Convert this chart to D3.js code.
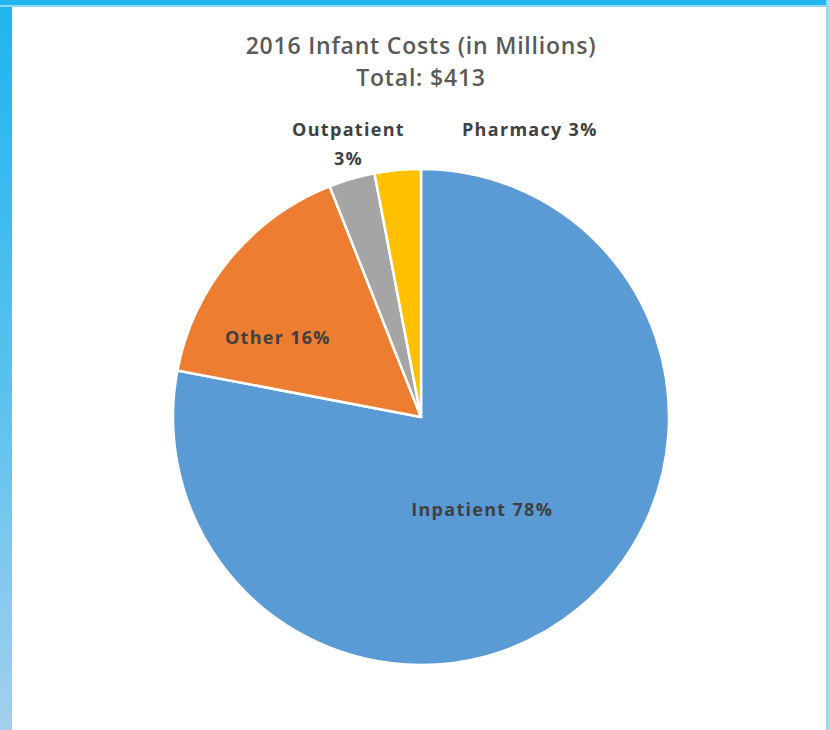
<!DOCTYPE html>
<html>
<head>
<meta charset="utf-8">
<script src="https://cdn.jsdelivr.net/npm/d3@7"></script>
<style>
  html, body { margin: 0; padding: 0; background: #ffffff; }
  svg { display: block; }
</style>
</head>
<body>
<svg id="chart" width="829" height="730"></svg>
<script>
// Cost categories, shares of the 2016 total (percent)
const categories = ["Inpatient", "Other", "Outpatient", "Pharmacy"];
const shares = [78, 16, 3, 3];
const sliceColors = ["#5B9BD5", "#ED7D31", "#A5A5A5", "#FFC000"];
const titleLines = ["2016 Infant Costs (in Millions)", "Total: $413"];

const W = 829, H = 730;
const svg = d3.select("#chart");

// frame: gradient band on the left, solid band on top, thin line on the right
const defs = svg.append("defs");
const grad = defs.append("linearGradient")
  .attr("id", "frameGrad").attr("x1", 0).attr("y1", 0).attr("x2", 0).attr("y2", 1);
grad.append("stop").attr("offset", "0%").attr("stop-color", "#1fb4ef");
grad.append("stop").attr("offset", "55%").attr("stop-color", "#5cc2ee");
grad.append("stop").attr("offset", "100%").attr("stop-color", "#a4cfed");

svg.append("rect").attr("x", 0).attr("y", 0).attr("width", W).attr("height", H).attr("fill", "#ffffff");
svg.append("rect").attr("x", 0).attr("y", 0).attr("width", 12).attr("height", H).attr("fill", "url(#frameGrad)");
svg.append("rect").attr("x", 0).attr("y", 0).attr("width", W).attr("height", 5).attr("fill", "#22b6f0");
svg.append("rect").attr("x", 0).attr("y", 5).attr("width", W).attr("height", 2).attr("fill", "#8fd7f5");
svg.append("rect").attr("x", W - 3).attr("y", 0).attr("width", 3).attr("height", H).attr("fill", "#9ad8f4");

// title
svg.append("g").selectAll("text").data(titleLines).join("text")
  .attr("x", 421)
  .attr("y", (d, i) => 54 + i * 32)
  .attr("text-anchor", "middle")
  .attr("font-family", "'Open Sans', Lato, sans-serif")
  .attr("font-size", 23)
  .attr("font-weight", 600)
  .attr("letter-spacing", 0.8)
  .attr("fill", "#595959")
  .text(d => d);

// pie
const cx = 421, cy = 417, R = 248;
const data = categories.map((c, i) => ({ name: c, value: shares[i], color: sliceColors[i] }));
const pie = d3.pie().sort(null).value(d => d.value);
const arcs = pie(data);
const arc = d3.arc().innerRadius(0).outerRadius(R);

const g = svg.append("g").attr("transform", `translate(${cx},${cy})`);
g.selectAll("path").data(arcs).join("path")
  .attr("d", arc)
  .attr("fill", d => d.data.color)
  .attr("stroke", "#ffffff")
  .attr("stroke-width", 2.5)
  .attr("stroke-linejoin", "round");

// data label placement: radius (fraction of R) along the slice middle, then a nudge
const labelLayout = {
  Inpatient:  { r: 0.45, dx: -10, dy: 13, split: false },
  Other:      { r: 0.66, dx: -17, dy: 31, split: false },
  Outpatient: { r: 1.12, dx: 5,   dy: -14, split: true },
  Pharmacy:   { r: 1.12, dx: 135, dy: -4, split: false }
};

arcs.forEach(d => {
  const L = labelLayout[d.data.name];
  const c = d3.arc().innerRadius(R * L.r).outerRadius(R * L.r).centroid(d);
  const pct = d.data.value + "%";
  const lines = L.split ? [d.data.name, pct] : [d.data.name + " " + pct];
  lines.forEach((t, i) => {
    g.append("text")
      .attr("x", c[0] + L.dx)
      .attr("y", c[1] + L.dy + i * 29)
      .attr("text-anchor", "middle")
      .attr("font-family", "'Open Sans', Lato, sans-serif")
      .attr("font-size", 18)
      .attr("font-weight", 700)
      .attr("letter-spacing", 1.3)
      .attr("fill", "#404040")
      .text(t);
  });
});
</script>
</body>
</html>
